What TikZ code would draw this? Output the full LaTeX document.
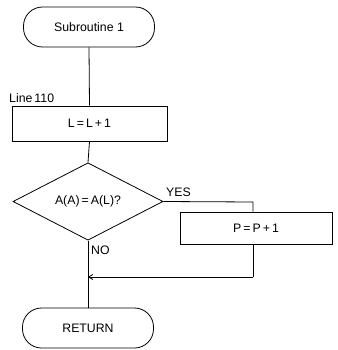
\documentclass[tikz,border=0pt]{standalone}
\usepackage{fontspec}
\setmainfont{Liberation Sans}
\usetikzlibrary{shapes.geometric,arrows.meta}
\begin{document}
\begin{tikzpicture}[x=1pt,y=-1pt,
  every node/.style={font=\fontsize{12.3}{14}\selectfont},
  term/.style={draw,rounded corners=19pt,minimum width=131pt,minimum height=40pt,inner sep=0pt,line width=0.8pt},
  proc/.style={draw,minimum height=35pt,inner sep=0pt,line width=0.8pt},
  dec/.style={draw,diamond,minimum width=150pt,minimum height=77pt,inner sep=0pt,line width=0.8pt},
  conn/.style={line width=0.8pt},
  lbl/.style={inner sep=0pt}]
\useasboundingbox (0,0) rectangle (337,350);
\node[term] (start) at (89,27) {Subroutine 1};
\node[proc,minimum width=155pt] (inc) at (89.5,123.5) {L\,=\,L\,+\,1};
\node[lbl,anchor=south west] (line) at (9,103) {Line\,110};
\node[dec] (test) at (88,201.5) {A(A)\,=\,A(L)?};
\node[proc,minimum width=152pt,minimum height=32pt] (p) at (256,228) {P\,=\,P\,+\,1};
\node[term] (ret) at (88,328) {RETURN};
\node[lbl,anchor=south west] (yes) at (166,197) {YES};
\node[lbl,anchor=north west] (no) at (91,246) {NO};
\coordinate (yr) at (253,202);
\coordinate (pb) at (253,277);
\coordinate (j) at (88,277);
\draw[conn] (start.south) -- (inc.north);
\draw[conn] (inc.south) -- (test.north);
\draw[conn] (test.east) -- (yr) -- (yr |- p.north);
\draw[conn] (yr |- p.south) -- (pb);
\draw[conn,-{Straight Barb[length=4pt,width=5pt]}] (pb) -- (j);
\draw[conn] (test.south) -- (ret.north);
\end{tikzpicture}
\end{document}
